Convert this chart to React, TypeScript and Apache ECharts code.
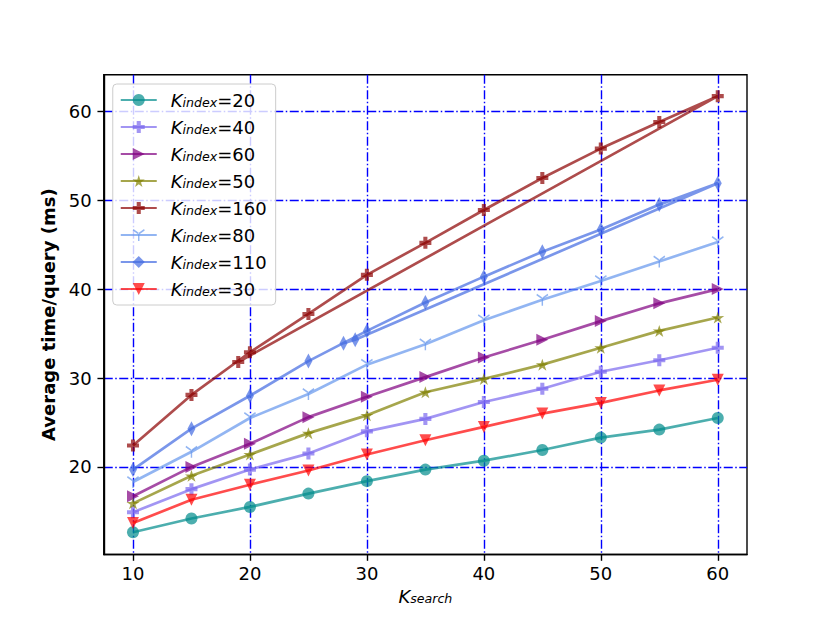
import React, { useEffect, useRef } from 'react';
import * as echarts from 'echarts';

const kSearch = [10, 15, 20, 25, 30, 35, 40, 45, 50, 55, 60];
const k20 = [12.65, 14.2, 15.5, 17.0, 18.4, 19.7, 20.7, 21.9, 23.3, 24.2, 25.5];
const k40 = [14.9, 17.5, 19.7, 21.5, 24.0, 25.4, 27.3, 28.8, 30.7, 32.0, 33.4];
const k60 = [16.7, 20.0, 22.6, 25.6, 27.9, 30.1, 32.3, 34.3, 36.4, 38.4, 40.0];
const k50 = [15.9, 19.0, 21.4, 23.8, 25.8, 28.4, 29.9, 31.5, 33.4, 35.3, 36.8];
const k160X = [10, 15, 20, 25, 30, 35, 40, 45, 50, 55, 60, 19];
const k160Y = [22.4, 28.1, 32.9, 37.2, 41.6, 45.2, 48.9, 52.5, 55.8, 58.8, 61.7, 31.8];
const k80 = [18.3, 21.7, 25.5, 28.2, 31.5, 33.8, 36.5, 38.8, 40.9, 43.1, 45.3];
const k110X = [10, 15, 20, 25, 30, 35, 40, 45, 50, 55, 60, 29, 28];
const k110Y = [19.7, 24.3, 28.0, 31.9, 35.3, 38.5, 41.4, 44.2, 46.7, 49.5, 51.9, 34.3, 33.9];
const k30 = [13.7, 16.3, 18.0, 19.6, 21.4, 23.0, 24.5, 26.0, 27.2, 28.6, 29.8];

const xTicks = [10, 20, 30, 40, 50, 60];
const yTicks = [20, 30, 40, 50, 60];

const FONT = 'DejaVu Sans';

const SYM = {
  circle: 'circle',
  plus: 'path://M3.3,0 H6.7 V3.3 H10 V6.7 H6.7 V10 H3.3 V6.7 H0 V3.3 H3.3 Z',
  triRight: 'path://M0,0 L10,5 L0,10 Z',
  star: 'path://M5,0 L6.117,3.463 L9.755,3.455 L6.807,5.587 L7.939,9.045 L5,6.9 L2.061,9.045 L3.193,5.587 L0.245,3.455 L3.883,3.463 Z',
  tri1: 'path://M4.4,5 L5.6,5 L5.6,10 L4.4,10 Z M5.3,4.5 L0.6,1.8 L0,2.8 L4.7,5.5 Z M4.7,4.5 L9.4,1.8 L10,2.8 L5.3,5.5 Z',
  diamond: 'path://M5,0 L9,8 L5,16 L1,8 Z',
  triDown: 'path://M0,0 L10,0 L5,10 Z',
};

const rich = {
  k: { fontFamily: FONT, fontSize: 18, fontStyle: 'italic', color: '#000', lineHeight: 18 },
  s: { fontFamily: FONT, fontSize: 12.6, fontStyle: 'italic', color: '#000', lineHeight: 10, verticalAlign: 'bottom' },
  n: { fontFamily: FONT, fontSize: 18, color: '#000', lineHeight: 18 },
};

function mk(label: string, xs: number[], ys: number[], color: string, symbol: string, size: number | number[]) {
  return {
    type: 'line',
    name: 'K_index=' + label,
    data: xs.map((x, i) => [x, ys[i]]),
    symbol,
    symbolSize: size,
    showSymbol: true,
    lineStyle: { color, width: 2.7 },
    itemStyle: { color },
    emphasis: { disabled: true },
  };
}

export default function App() {
  const ref = useRef<HTMLDivElement>(null);
  useEffect(() => {
    if (!ref.current) return;
    const chart = echarts.init(ref.current, null, { renderer: 'svg' });
    const series = [
      mk('20', kSearch, k20, 'rgba(0,139,139,0.7)', SYM.circle, 12),
      mk('40', kSearch, k40, 'rgba(123,104,238,0.7)', SYM.plus, 12),
      mk('60', kSearch, k60, 'rgba(128,0,128,0.7)', SYM.triRight, 12),
      mk('50', kSearch, k50, 'rgba(128,128,0,0.7)', SYM.star, [13, 12]),
      mk('160', k160X, k160Y, 'rgba(139,0,0,0.7)', SYM.plus, 12),
      mk('80', kSearch, k80, 'rgba(100,149,237,0.7)', SYM.tri1, 12),
      mk('110', k110X, k110Y, 'rgba(65,105,225,0.7)', SYM.diamond, [8, 15]),
      mk('30', kSearch, k30, 'rgba(255,0,0,0.7)', SYM.triDown, 12),
    ];
    const option = {
      animation: false,
      backgroundColor: '#fff',
      grid: {
        left: 103.75, top: 74.8, width: 643.25, height: 479.7,
        show: true, borderColor: '#000', borderWidth: 1.4, backgroundColor: 'transparent',
      },
      legend: {
        orient: 'vertical', left: 112.75, top: 84,
        itemWidth: 36, itemHeight: 15, itemGap: 9, padding: [7, 9, 7, 7],
        backgroundColor: 'rgba(255,255,255,0.8)', borderColor: '#cccccc', borderWidth: 1, borderRadius: 4,
        formatter: (name: string) => `{k|K}{s|index}{n|=${name.split('=')[1]}}`,
        textStyle: { fontFamily: FONT, fontSize: 18, color: '#000', padding: [0, 0, 0, 9], rich },
        data: series.map((s) => s.name),
      },
      xAxis: {
        type: 'value', min: 7.5, max: 62.5,
        name: '{k|K}{s|search}', nameLocation: 'middle', nameGap: 32,
        nameTextStyle: { rich },
        axisLine: { show: true, lineStyle: { color: '#000', width: 1.4 } },
        axisTick: { show: true, inside: false, length: 6.3, lineStyle: { color: '#000', width: 1.4 }, customValues: xTicks },
        axisLabel: { customValues: xTicks, margin: 10, fontSize: 18, fontFamily: FONT, color: '#000' },
        splitLine: { show: true, lineStyle: { color: '#0000ff', width: 1.4, type: [9, 2.5, 1.5, 2.5] } },
      },
      yAxis: {
        type: 'value', min: 10.15, max: 64.1,
        name: 'Average time/query (ms)', nameLocation: 'middle', nameGap: 43,
        nameTextStyle: { fontFamily: FONT, fontSize: 18, fontWeight: 'bold', color: '#000' },
        axisLine: { show: true, lineStyle: { color: '#000', width: 1.4 } },
        axisTick: { show: true, inside: false, length: 6.3, lineStyle: { color: '#000', width: 1.4 }, customValues: yTicks },
        axisLabel: { customValues: yTicks, margin: 12, fontSize: 18, fontFamily: FONT, color: '#000' },
        splitLine: { show: true, lineStyle: { color: '#0000ff', width: 1.4, type: [9, 2.5, 1.5, 2.5] } },
      },
      series,
    };
    chart.setOption(option as any);
    return () => chart.dispose();
  }, []);
  return <div ref={ref} style={{ position: 'absolute', left: 0, top: 0, width: 830, height: 623 }} />;
}
